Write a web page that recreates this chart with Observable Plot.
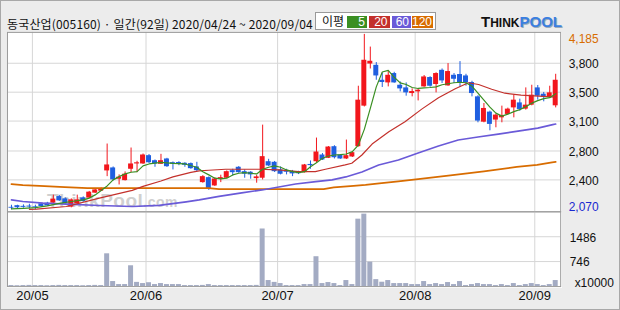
<!DOCTYPE html>
<html><head><meta charset="utf-8">
<script src="https://cdn.jsdelivr.net/npm/d3@7"></script>
<script src="https://cdn.jsdelivr.net/npm/@observablehq/plot@0.6"></script>
<style>
html,body{margin:0;padding:0;background:#ececec;}
#wrap{position:relative;width:620px;height:310px;background:#ececec;overflow:hidden;box-sizing:border-box;border:1px solid #a8a8a8;}
#wrap svg{position:absolute;left:-1px;top:-1px;}
#plotbg{position:absolute;left:6px;top:31px;width:555px;height:256px;background:#fff;}
#wm{position:absolute;left:46px;top:189px;font:bold 19px "Liberation Sans",sans-serif;color:#d0d0d0;letter-spacing:0.5px;}
#wm small{font-size:14px;font-weight:bold;}
#title{position:absolute;left:6px;top:17px;font:12px/1 "Noto Sans CJK KR",sans-serif;color:#111;white-space:nowrap;letter-spacing:0.15px;}
#legend{position:absolute;left:314px;top:11px;width:119px;height:16px;background:#fff;border:1px solid #999;font:12px/1 "Noto Sans CJK KR",sans-serif;}
#legend .lab{position:absolute;left:6px;top:2px;color:#111;}
#legend .b{position:absolute;top:3px;height:12px;color:#fff;text-align:right;font:12px/12px "Liberation Sans",sans-serif;box-sizing:border-box;padding-right:2px;}
#logo{position:absolute;left:480px;top:13px;font-family:"Liberation Sans",sans-serif;font-weight:bold;white-space:nowrap;line-height:1;}
#logo .t{font-size:15px;color:#111;}
#logo .h{font-size:12px;color:#111;}
#logo .p{font-size:15px;color:#3b7fe0;text-shadow:1px 1px 0 #9ab;}
</style></head>
<body>
<div id="wrap">
  <div id="plotbg"></div>
  <div id="wm">ThinkPool<small>.com</small></div>
  <div id="title">동국산업(005160) · 일간(92일) 2020/04/24 ~ 2020/09/04</div>
  <div id="legend"><span class="lab">이평</span></div>
  <div id="logo"><span class="t">T</span><span class="h">HINK</span><span class="p">POOL</span></div>
</div>
<script>
// ---- data (daily candles, index 0 = 2020/04/24 ... 91 = 2020/09/04) ----
const opens = [2100,2120,2112,2115,2106,2142,2150,2151,2230,2202,2103,2142,2214,2211,2271,2295,2539,2575,2439,2422,2559,2623,2623,2723,2662,2619,2683,2638,2640,2631,2627,2587,2398,2458,2358,2439,2451,2542,2583,2530,2523,2446,2451,2650,2643,2551,2537,2530,2530,2518,2617,2650,2731,2691,2831,2731,2683,2707,2831,3320,3828,3812,3632,3600,3713,3572,3540,3472,3492,3552,3665,3581,3752,3564,3692,3701,3684,3605,3432,3127,3248,3152,3179,3220,3299,3359,3284,3332,3540,3464,3425,3324];
const highs = [2125,2125,2130,2137,2126,2148,2160,2247,2244,2214,2202,2247,2226,2292,2316,2334,2863,2587,2491,2527,2815,2655,2743,2737,2671,2739,2691,2647,2650,2638,2635,2643,2482,2467,2455,2487,2539,2559,2591,2551,2530,2487,3091,2679,2653,2587,2559,2545,2535,2617,2659,2935,2749,2833,2843,2737,2911,2767,3560,4185,4032,3845,3720,3744,3728,3612,3600,3528,3524,3689,3675,3722,3768,3833,3713,3857,3704,3620,3446,3352,3260,3224,3320,3296,3452,3404,3540,3572,3569,3485,3560,3704];
const lows = [2070,2080,2090,2082,2070,2103,2113,2139,2172,2130,2094,2136,2160,2208,2268,2292,2470,2418,2370,2418,2518,2518,2617,2629,2583,2617,2581,2551,2602,2583,2559,2530,2391,2304,2352,2398,2446,2479,2511,2451,2439,2391,2430,2593,2520,2491,2491,2470,2495,2515,2559,2631,2665,2688,2683,2679,2677,2701,2827,3310,3768,3632,3545,3552,3596,3492,3440,3432,3383,3548,3548,3480,3593,3560,3593,3545,3560,3432,3119,3119,3023,3059,3119,3215,3179,3260,3272,3324,3392,3372,3412,3299];
const closes = [2090,2095,2100,2103,2094,2110,2118,2199,2178,2142,2190,2190,2170,2283,2310,2326,2611,2431,2463,2499,2623,2637,2731,2638,2623,2662,2590,2619,2627,2607,2566,2542,2470,2319,2442,2458,2530,2518,2518,2499,2491,2467,2711,2599,2530,2499,2523,2503,2505,2611,2603,2767,2671,2827,2698,2683,2723,2759,3392,3873,3861,3684,3605,3692,3600,3528,3480,3496,3512,3672,3560,3713,3624,3737,3644,3605,3600,3472,3140,3292,3100,3212,3208,3284,3392,3280,3332,3452,3440,3425,3480,3632];
// volume, x10000 shares
const volumes = [30,25,30,35,30,30,25,30,35,30,30,30,25,30,35,30,977,150,60,60,620,125,90,115,60,90,60,60,60,30,30,30,35,60,30,30,30,30,30,30,30,35,1717,180,125,90,30,30,30,60,60,890,90,120,90,30,180,60,2010,2160,730,207,130,180,90,90,90,60,60,150,60,90,60,120,60,150,30,60,90,60,60,30,60,30,90,30,60,90,60,30,60,180];

// moving averages (position = day index, value = price)
const ma5Pos = [0,2,4,6,8,10,12,13,14,15,16,17,18,19,20,21,22,23,25,27,29,31,32,33,34,35,36,37,38,39,40,41,42,43,44,45,46,47,48,49,50,51,52,53,54,55,56,57,58,59,60,61,62,63,64,65,66,67,68,69,70,71,72,73,74,75,76,77,78,79,80,81,82,83,84,85,86,87,88,89,90,91];
const ma5Val = [2082,2088,2096,2118,2148,2170,2190,2211,2250,2302,2358,2431,2470,2503,2523,2530,2599,2623,2643,2631,2623,2583,2530,2491,2451,2443,2451,2491,2511,2518,2511,2503,2559,2583,2599,2583,2551,2530,2518,2530,2590,2638,2691,2719,2731,2735,2743,2771,2851,3040,3292,3552,3732,3752,3668,3600,3581,3545,3533,3540,3545,3552,3578,3590,3602,3608,3602,3560,3476,3392,3308,3236,3200,3224,3254,3278,3314,3356,3386,3410,3422,3470];
const ma20Pos = [3,4.2,9.2,14.7,20.2,22,25,27,30,31.4,33,35.8,41.4,44.7,48,50.8,52.5,55.8,56.9,58.6,60.3,63.1,65.8,68.6,71.4,74.2,76.4,78.1,80.3,82.5,85.2,88.2,91];
const ma20Val = [2076,2078,2110,2211,2304,2352,2418,2467,2521,2539,2547,2559,2559,2551,2530,2530,2559,2611,2631,2731,2863,3011,3131,3284,3422,3530,3602,3581,3524,3476,3452,3440,3428];
const ma60Pos = [0,1.9,5.3,9.2,14.7,20.2,24.7,29.2,31.4,34.7,38.5,41.9,44.7,47.5,50.9,53.6,55.9,58.6,61.4,64.7,68,71.4,74.7,78,81.4,84.7,88,90.5,91];
const ma60Val = [2190,2170,2151,2139,2122,2110,2124,2166,2190,2232,2274,2310,2346,2382,2410,2431,2467,2527,2611,2671,2755,2839,2911,2947,2983,3019,3055,3097,3104];
const ma120Pos = [0,1.9,4.7,8.9,12.7,33,34.7,52.2,53.9,57.2,59.2,61.5,64.7,68,73.4,79,84.5,87.9,90.4,91];
const ma120Val = [2379,2367,2358,2343,2331,2331,2319,2319,2340,2358,2370,2388,2412,2439,2485,2533,2587,2611,2643,2647];

// axis ticks
const priceTickValues = [3837,3488,3140,2779,2431];
const priceTickLabels = ["3,800","3,500","3,100","2,800","2,400"];
const priceMax = 4185, priceMin = 2070;
const volTickValues = [1486,746];
const volTickLabels = ["1486","746"];
const monthStartIdx = [4,23,45,68,88];
const monthLabels = ["20/05","20/06","20/07","20/08","20/09"];

const maNames = ["5","20","60","120"];
const maColors = ["#3a8f22","#c3302b","#6a5ad8","#d86c00"];
const upColor = "#f2161c", downColor = "#1f5fe0";

// ---- build ----
const candles = opens.map((o,i)=>({i, o, h: highs[i], l: lows[i], c: closes[i], up: closes[i] >= o}));
const mkLine = (pos, val) => pos.map((p,k)=>({p, v: val[k]}));
const xScale = {type:"linear", domain:[-0.5, 91.5], range:[8, 560], axis:null};
const font = "Liberation Sans, Arial, sans-serif";

const price = Plot.plot({
  width: 620, height: 310,
  marginLeft: 7, marginRight: 58, marginTop: 32, marginBottom: 98,
  style: {background:"transparent", overflow:"visible", fontFamily: font},
  x: xScale,
  y: {domain:[priceMin, priceMax], range:[210, 34], axis:null},
  marks: [
    Plot.ruleY(priceTickValues, {stroke:"#d6d6d6", strokeWidth:1}),
    Plot.ruleX(monthStartIdx, {x: d => d - 0.5, stroke:"#d6d6d6", strokeWidth:1}),
    Plot.ruleX(candles, {x:"i", y1:"l", y2:"h", stroke: d => d.up ? upColor : downColor, strokeWidth:1}),
    Plot.rect(candles, {x1: d => d.i - 0.5, x2: d => d.i + 0.5, y1:"o", y2:"c", insetLeft:0.5, insetRight:0.5, fill: d => d.up ? upColor : downColor}),
    Plot.line(mkLine(ma120Pos, ma120Val), {x:"p", y:"v", stroke: maColors[3], strokeWidth:1.8}),
    Plot.line(mkLine(ma60Pos, ma60Val), {x:"p", y:"v", stroke: maColors[2], strokeWidth:1.6}),
    Plot.line(mkLine(ma20Pos, ma20Val), {x:"p", y:"v", stroke: maColors[1], strokeWidth:1.2}),
    Plot.line(mkLine(ma5Pos, ma5Val), {x:"p", y:"v", stroke: maColors[0], strokeWidth:1.2}),
    Plot.frame({stroke:"#9a9a9a"}),
    Plot.text(priceTickValues, {y: d => d, text: (d,k) => priceTickLabels[k], frameAnchor:"right", dx:8, dy:1, textAnchor:"start", fontSize:12, fill:"#111"}),
    Plot.text([priceMax], {y: d => d, text: d => d3.format(",")(d), frameAnchor:"right", dx:8, dy:5, textAnchor:"start", fontSize:12, fill:"#d86c00"}),
    Plot.text([priceMin], {y: d => d, text: d => d3.format(",")(d), frameAnchor:"right", dx:8, dy:-3, textAnchor:"start", fontSize:12, fill:"#1a28d0"})
  ]
});

const vol = Plot.plot({
  width: 620, height: 310,
  marginLeft: 7, marginRight: 58, marginTop: 212, marginBottom: 23,
  style: {background:"transparent", overflow:"visible", fontFamily: font},
  x: xScale,
  y: {domain:[0, 1486], range:[287, 237], axis:null},
  marks: [
    Plot.ruleY(volTickValues, {stroke:"#d6d6d6", strokeWidth:1}),
    Plot.ruleX(monthStartIdx, {x: d => d - 0.5, stroke:"#d6d6d6", strokeWidth:1}),
    Plot.rect(volumes, {x1: (d,i) => i - 0.5, x2: (d,i) => i + 0.5, y1: 0, y2: d => d, insetLeft:0.5, insetRight:0.5, fill:"#a3abc3"}),
    Plot.frame({stroke:"#9a9a9a"}),
    Plot.text(volTickValues, {y: d => d, text: (d,k) => volTickLabels[k], frameAnchor:"right", dx:9, dy:1, textAnchor:"start", fontSize:12, fill:"#111"}),
    Plot.text(["x10000"], {frameAnchor:"bottom-right", dx:14, dy:0, textAnchor:"start", fontSize:12, fill:"#111"}),
    Plot.text(monthStartIdx, {x: d => d - 0.5, text: (d,k) => monthLabels[k], frameAnchor:"bottom", dy:13, fontSize:13, fill:"#111"})
  ]
});

const wrap = document.getElementById("wrap");
wrap.appendChild(price);
wrap.appendChild(vol);

// legend boxes
const legend = document.getElementById("legend");
const boxX = [31, 52.5, 76, 96];
const boxW = [20, 21, 19, 21];
maNames.forEach((n,k) => {
  const b = document.createElement("div");
  b.className = "b";
  b.style.left = boxX[k] + "px";
  b.style.width = boxW[k] + "px";
  b.style.background = maColors[k];
  b.textContent = n;
  legend.appendChild(b);
});
</script>
</body></html>
